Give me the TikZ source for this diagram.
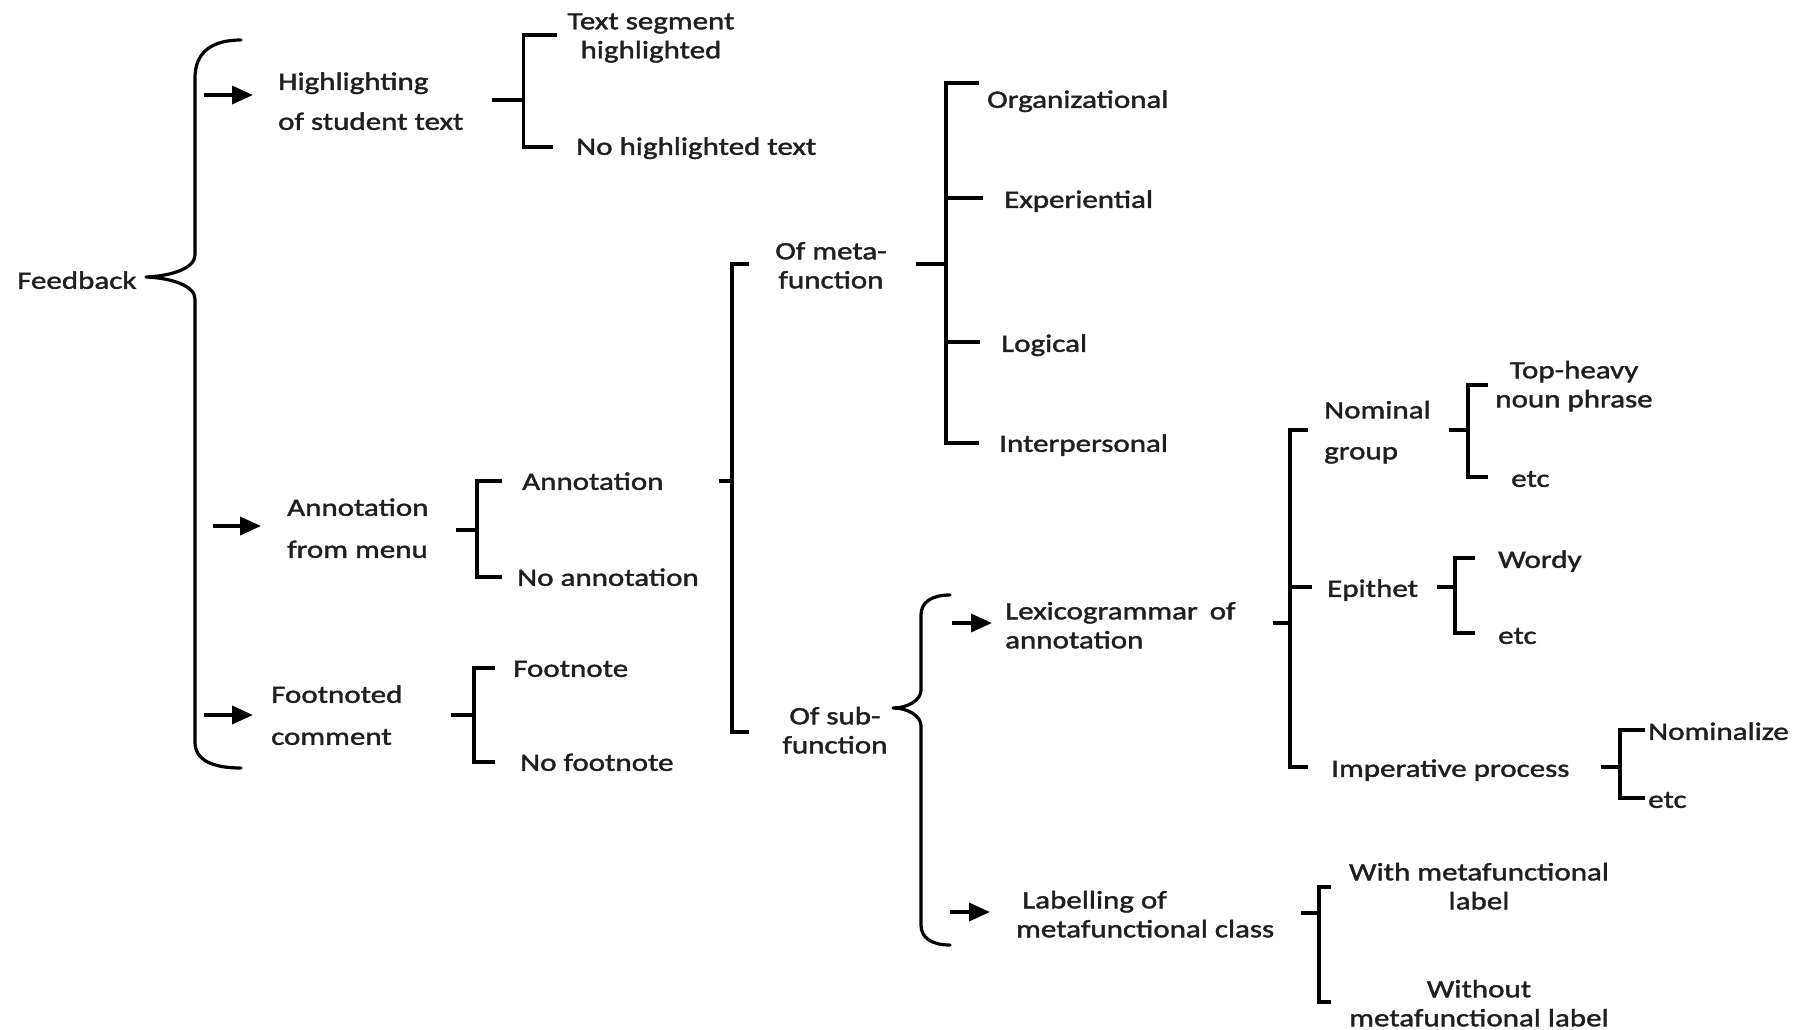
\documentclass[tikz,border=0pt]{standalone}
\usepackage{fontspec}
\setmainfont{Carlito}[FakeStretch=1.24,FakeBold=1.6]
\usetikzlibrary{arrows.meta}
\begin{document}
\begin{tikzpicture}[x=1pt,y=1pt,
  lbl/.style={inner sep=0pt, yshift=-3pt, font=\fontsize{25}{29}\selectfont, text=black!88},
  lblL/.style={lbl, anchor=west, align=left},
  lblC/.style={lbl, anchor=center, align=center},
  br/.style={line width=3.8pt, line join=miter},
  brace/.style={line width=3.2pt, line cap=round, line join=round},
  arr/.style={line width=3.6pt, -{Triangle[length=21pt,width=18pt]}}]

\fill[white] (0,0) rectangle (1799,-1030);
\useasboundingbox (0,0) rectangle (1799,-1030);

% ---- labels ----
\node[lblL] (fb)   at (17,-280)   {Feedback\strut};
\node[lblL] (hl)   at (278,-101)  {Highlighting\strut\\[11pt]of student text\strut};
\node[lblC] (tsh)  at (651,-35)   {Text segment\strut\\highlighted\strut};
\node[lblL] (nht)  at (576,-146)  {No highlighted text\strut};
\node[lblL] (afm)  at (287,-528)  {Annotation\strut\\[13pt]from menu\strut};
\node[lblL] (ann)  at (522,-481)  {Annotation\strut};
\node[lblL] (noa)  at (517,-577)  {No annotation\strut};
\node[lblL] (fnc)  at (271,-715)  {Footnoted\strut\\[13pt]comment\strut};
\node[lblL] (fno)  at (513,-668)  {Footnote\strut};
\node[lblL] (nfo)  at (520,-762)  {No footnote\strut};
\node[lblC] (ofm)  at (831,-265)  {Of meta-\strut\\function\strut};
\node[lblC] (osf)  at (835,-730)  {Of sub-\strut\\function\strut};
\node[lblL] (org)  at (987,-99)   {Organizational\strut};
\node[lblL] (exp)  at (1004,-199) {Experiential\strut};
\node[lblL] (log)  at (1001,-343) {Logical\strut};
\node[lblL] (ipe)  at (999,-443)  {Interpersonal\strut};
\node[lblL] (lex)  at (1005,-625) {Lexicogrammar\hspace{5pt} of\strut\\annotation\strut};
\node[lblL] (lab)  at (1016,-914) {\hspace{6pt}Labelling of\strut\\metafunctional class\strut};
\node[lblL] (nom)  at (1324,-430) {Nominal\strut\\[12pt]group\strut};
\node[lblC] (thn)  at (1574,-384) {Top-heavy\strut\\noun phrase\strut};
\node[lblL] (etc1) at (1511,-478) {etc\strut};
\node[lblL] (epi)  at (1327,-588) {Epithet\strut};
\node[lblL] (wor)  at (1498,-559) {Wordy\strut};
\node[lblL] (etc2) at (1498,-635) {etc\strut};
\node[lblL] (imp)  at (1331,-768) {Imperative process\strut};
\node[lblL] (nmz)  at (1648,-731) {Nominalize\strut};
\node[lblL] (etc3) at (1648,-799) {etc\strut};
\node[lblC] (wml)  at (1479,-886) {With metafunctional\strut\\label\strut};
\node[lblC] (wol)  at (1479,-1003) {Without\strut\\metafunctional label\strut};

% ---- curly braces ----
\coordinate (fbtip) at (146,-277);
\draw[brace] (241,-40) .. controls (212,-40) and (195,-52) .. (195,-78)
  -- (195,-255) .. controls (195,-268) and (172,-276) .. (fbtip)
  .. controls (172,-278) and (195,-286) .. (195,-299)
  -- (195,-742) .. controls (195,-760) and (212,-768) .. (241,-768);

\coordinate (sftip) at (893,-708);
\draw[brace] (950,-595) .. controls (932,-595) and (921,-602) .. (921,-615)
  -- (921,-690) .. controls (921,-700) and (908,-708) .. (sftip)
  .. controls (908,-708) and (921,-716) .. (921,-726)
  -- (921,-925) .. controls (921,-938) and (932,-945) .. (950,-945);

% ---- arrows ----
\draw[arr] (204,-95)  -- (253,-95);
\draw[arr] (213,-526) -- (261,-526);
\draw[arr] (204,-715) -- (253,-715);
\draw[arr] (952,-623) -- (992,-623);
\draw[arr] (950,-912) -- (990,-912);

% ---- square brackets ----
% highlighting
\draw[br] (492,-100) -- (523.5,-100);
\draw[br] (557,-35) -- (523.5,-35) -- (523.5,-147) -- (553,-147);
% annotation from menu
\draw[br] (456,-530) -- (477,-530);
\draw[br] (502,-481) -- (477,-481) -- (477,-577) -- (502,-577);
% footnoted comment
\draw[br] (451,-715) -- (474,-715);
\draw[br] (495,-668) -- (474,-668) -- (474,-762) -- (495,-762);
% annotation -> of meta-function / of sub-function
\draw[br] (719,-481) -- (732,-481);
\draw[br] (749,-264) -- (732,-264) -- (732,-732) -- (749,-732);
% of meta-function
\draw[br] (916,-264) -- (946,-264);
\draw[br] (979,-83) -- (946,-83) -- (946,-443) -- (979,-443);
\draw[br] (946,-198) -- (983,-198);
\draw[br] (946,-342) -- (980,-342);
% lexicogrammar of annotation
\draw[br] (1273,-623) -- (1290,-623);
\draw[br] (1308,-430) -- (1290,-430) -- (1290,-767) -- (1308,-767);
\draw[br] (1290,-587) -- (1312,-587);
% nominal group
\draw[br] (1449,-430) -- (1468,-430);
\draw[br] (1488,-385) -- (1468,-385) -- (1468,-477) -- (1488,-477);
% epithet
\draw[br] (1437,-587) -- (1455,-587);
\draw[br] (1475,-558) -- (1455,-558) -- (1455,-633) -- (1475,-633);
% imperative process
\draw[br] (1601,-767) -- (1620,-767);
\draw[br] (1645,-730) -- (1620,-730) -- (1620,-798) -- (1645,-798);
% labelling of metafunctional class
\draw[br] (1301,-913) -- (1319,-913);
\draw[br] (1331,-887) -- (1319,-887) -- (1319,-1002) -- (1331,-1002);
\end{tikzpicture}
\end{document}
